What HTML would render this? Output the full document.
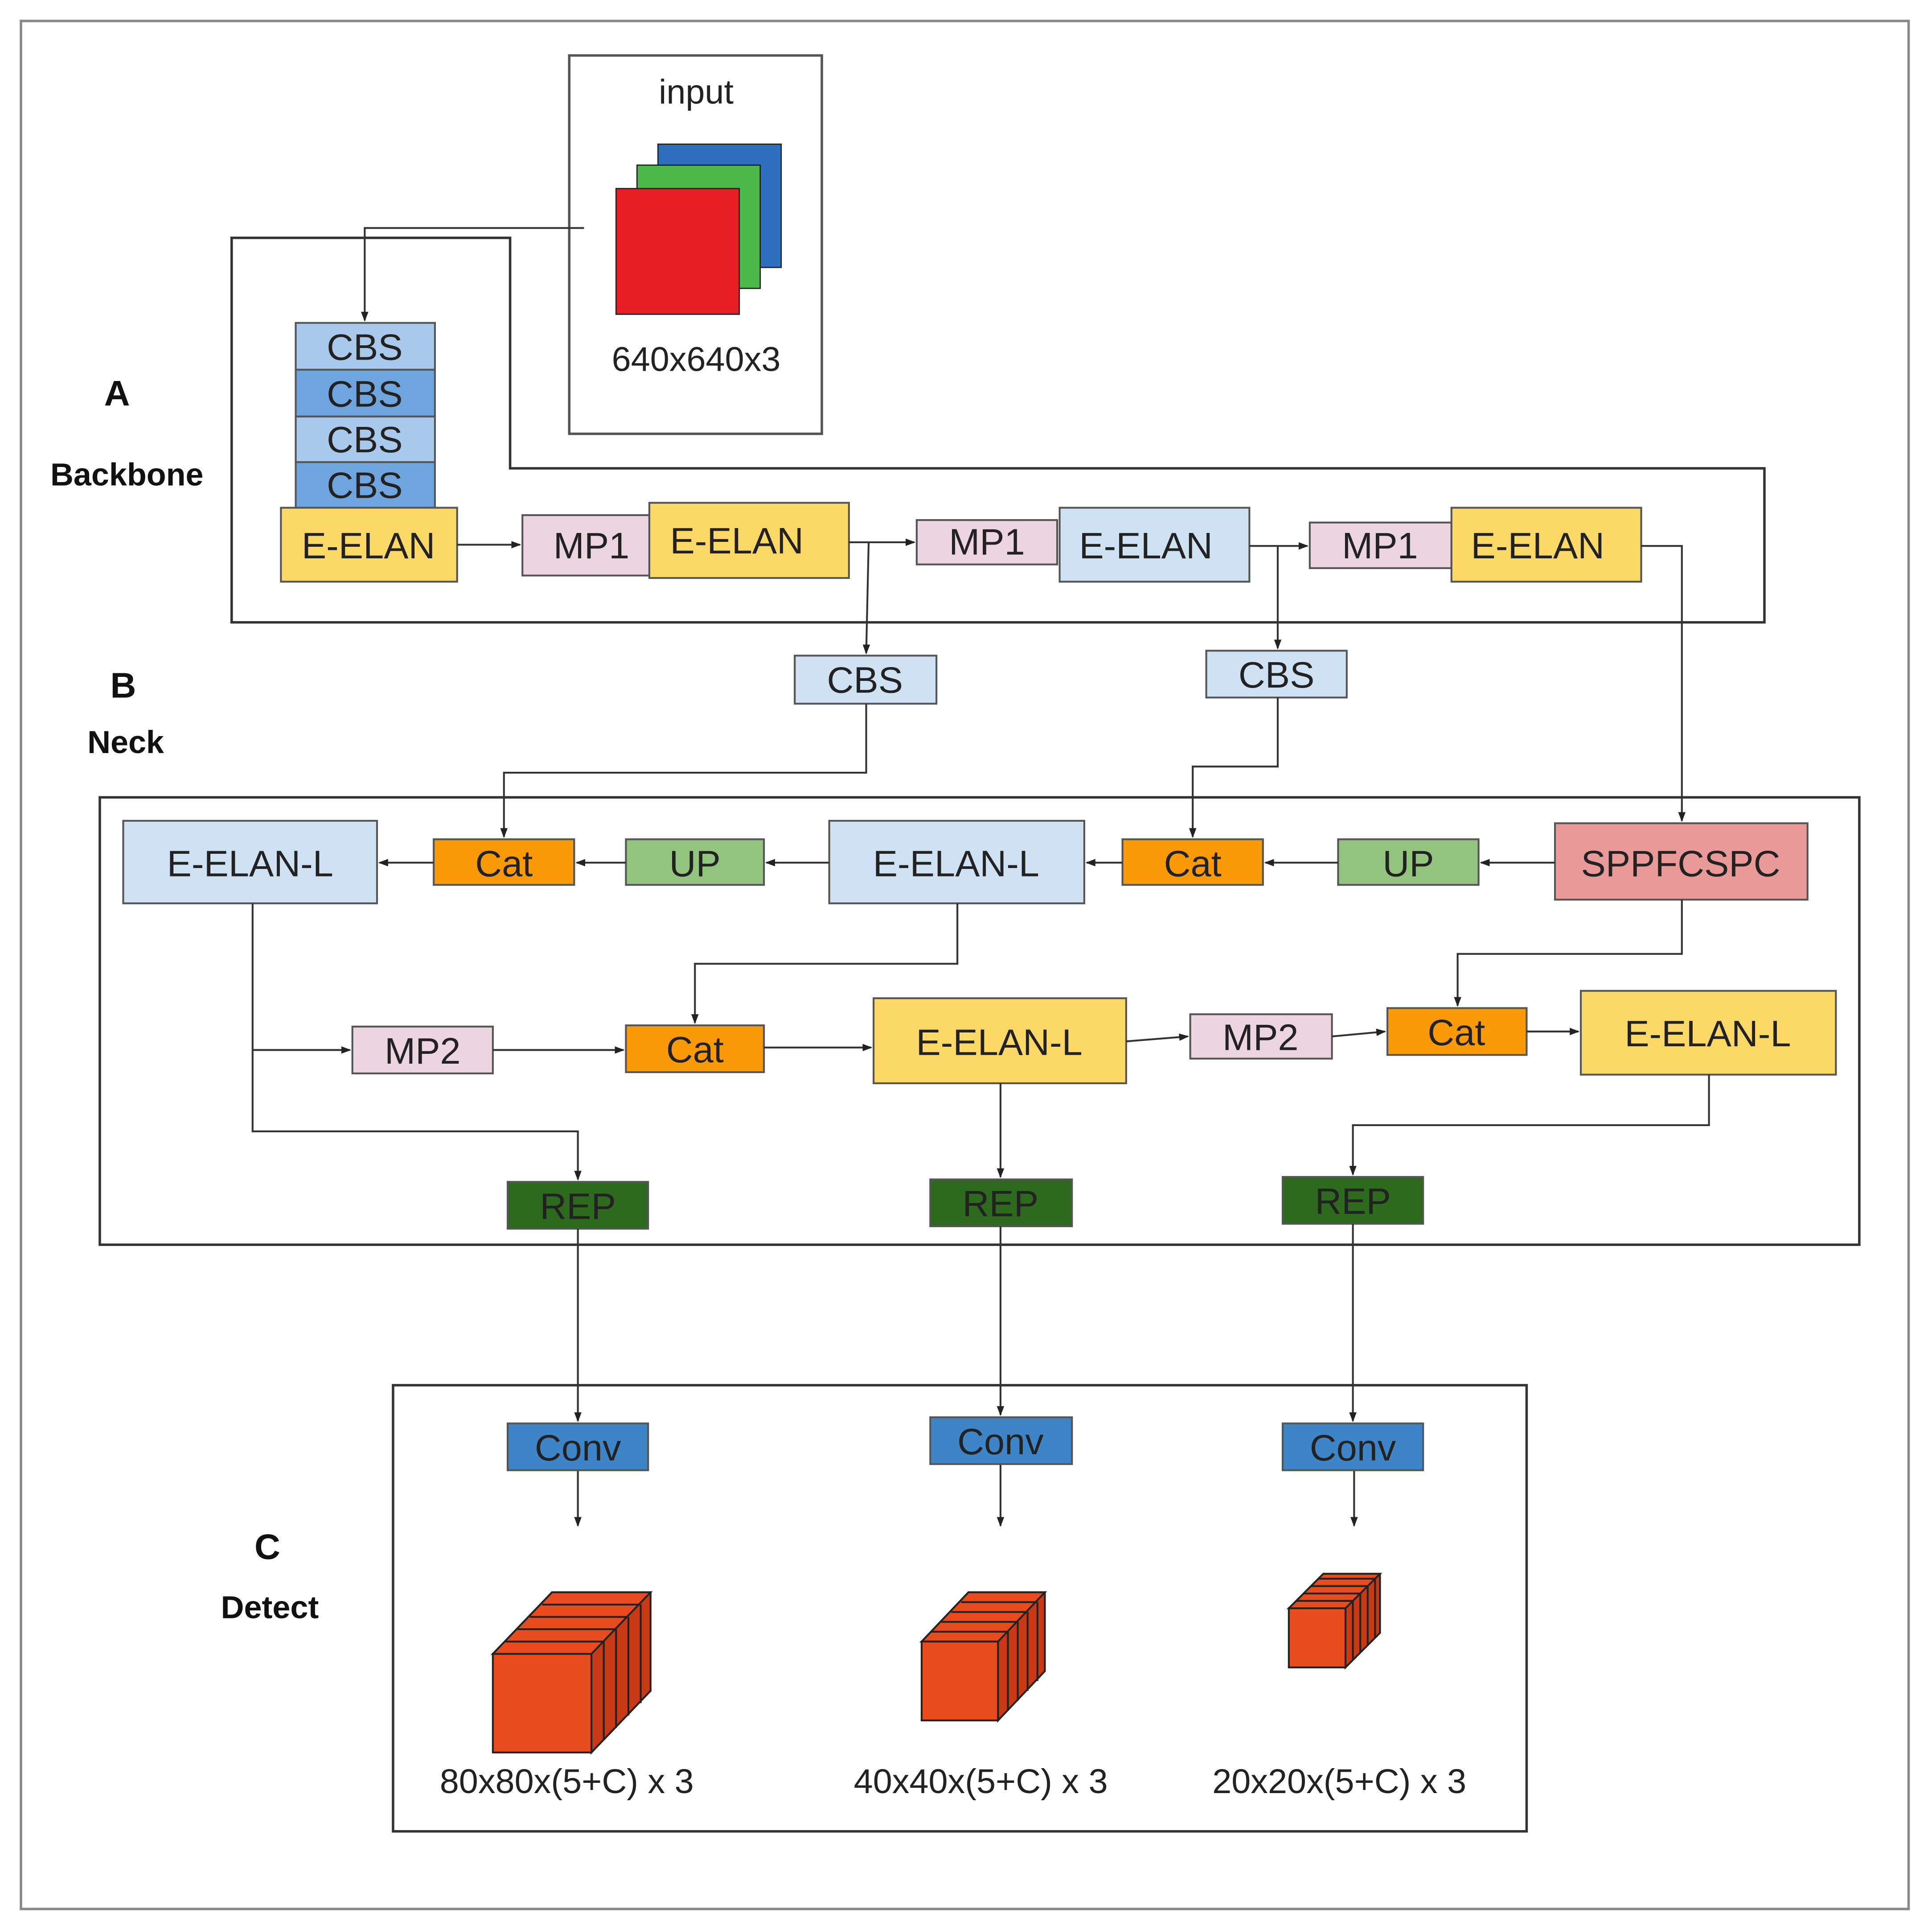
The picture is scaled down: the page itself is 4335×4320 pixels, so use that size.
<!DOCTYPE html>
<html><head><meta charset="utf-8"><style>html,body{margin:0;padding:0;background:#fff}svg{display:block}</style></head>
<body>
<svg width="4335" height="4320" viewBox="0 0 1568 1562" preserveAspectRatio="none" xmlns="http://www.w3.org/2000/svg" font-family="Liberation Sans, sans-serif">
<defs><marker id="a" markerWidth="8" markerHeight="8" refX="7" refY="4" orient="auto" markerUnits="userSpaceOnUse"><path d="M0,1 L8,4 L0,7 Z" fill="#222"/></marker></defs>
<rect x="0" y="0" width="1568" height="1562" fill="#fff"/>
<rect x="17" y="17" width="1532" height="1532" fill="none" stroke="#888" stroke-width="2"/>
<!-- input -->
<rect x="462" y="45" width="205" height="307" fill="none" stroke="#555" stroke-width="2"/>
<text x="565" y="84" font-size="28" text-anchor="middle" fill="#222">input</text>
<rect x="534" y="117" width="100" height="100" fill="#2f6fc0" stroke="#222"/>
<rect x="517" y="134" width="100" height="100" fill="#4cb84c" stroke="#222"/>
<rect x="500" y="153" width="100" height="102" fill="#e81e25" stroke="#222"/>
<text x="565" y="301" font-size="28" text-anchor="middle" fill="#222">640x640x3</text>
<!-- backbone box -->
<path d="M188,193 H414 V380 H1432 V505 H188 Z" fill="none" stroke="#333" stroke-width="2"/>
<path d="M474,185 H296 V260" fill="none" stroke="#333" stroke-width="1.5" marker-end="url(#a)"/>
<g stroke="#555" stroke-width="1.5">
<rect x="240" y="262" width="113" height="38" fill="#a9c9ec"/>
<rect x="240" y="300" width="113" height="38" fill="#6fa5df"/>
<rect x="240" y="338" width="113" height="37" fill="#a9c9ec"/>
<rect x="240" y="375" width="113" height="37" fill="#6fa5df"/>
<rect x="228" y="412" width="143" height="60" fill="#fcd967"/>
<rect x="424" y="418" width="103" height="49" fill="#ecd4e0"/>
<rect x="527" y="408" width="162" height="61" fill="#fcd967"/>
<rect x="744" y="422" width="114" height="36" fill="#ecd4e0"/>
<rect x="860" y="412" width="154" height="60" fill="#cfe2f3"/>
<rect x="1063" y="424" width="115" height="37" fill="#ecd4e0"/>
<rect x="1178" y="412" width="154" height="60" fill="#fcd967"/>
<rect x="645" y="532" width="115" height="39" fill="#cfe2f3"/>
<rect x="979" y="528" width="114" height="38" fill="#cfe2f3"/>
</g>
<g font-size="30" text-anchor="middle" fill="#222">
<text x="296" y="292">CBS</text><text x="296" y="330">CBS</text><text x="296" y="367">CBS</text><text x="296" y="404">CBS</text>
<text x="299" y="453">E-ELAN</text><text x="480" y="453">MP1</text><text x="598" y="449">E-ELAN</text>
<text x="801" y="450">MP1</text><text x="930" y="453">E-ELAN</text><text x="1120" y="453">MP1</text><text x="1248" y="453">E-ELAN</text>
<text x="702" y="562">CBS</text><text x="1036" y="558">CBS</text>
</g>
<g fill="none" stroke="#333" stroke-width="1.5">
<path d="M371,442 H422" marker-end="url(#a)"/>
<path d="M689,440 H742" marker-end="url(#a)"/>
<path d="M1014,443 H1061" marker-end="url(#a)"/>
<path d="M1332,443 H1365 V666" marker-end="url(#a)"/>
<path d="M705,440 L703,530" marker-end="url(#a)"/>
<path d="M1037,443 V526" marker-end="url(#a)"/>
<path d="M703,571 V627 H409 V679" marker-end="url(#a)"/>
<path d="M1037,566 V622 H968 V679" marker-end="url(#a)"/>
</g>
<!-- neck -->
<rect x="81" y="647" width="1428" height="363" fill="none" stroke="#333" stroke-width="2"/>
<g stroke="#555" stroke-width="1.5">
<rect x="100" y="666" width="206" height="67" fill="#cfe2f3"/>
<rect x="352" y="681" width="114" height="37" fill="#fb9a09"/>
<rect x="508" y="681" width="112" height="37" fill="#93c47d"/>
<rect x="673" y="666" width="207" height="67" fill="#cfe2f3"/>
<rect x="911" y="681" width="114" height="37" fill="#fb9a09"/>
<rect x="1086" y="681" width="114" height="37" fill="#93c47d"/>
<rect x="1262" y="668" width="205" height="62" fill="#ea9999"/>
<rect x="286" y="833" width="114" height="38" fill="#ecd4e0"/>
<rect x="508" y="832" width="112" height="38" fill="#fb9a09"/>
<rect x="709" y="810" width="205" height="69" fill="#fcd967"/>
<rect x="966" y="823" width="115" height="36" fill="#ecd4e0"/>
<rect x="1126" y="818" width="113" height="38" fill="#fb9a09"/>
<rect x="1283" y="804" width="207" height="68" fill="#fcd967"/>
<rect x="412" y="959" width="114" height="38" fill="#2d6a1e"/>
<rect x="755" y="957" width="115" height="38" fill="#2d6a1e"/>
<rect x="1041" y="955" width="114" height="38" fill="#2d6a1e"/>
</g>
<g font-size="30" text-anchor="middle" fill="#222">
<text x="203" y="711">E-ELAN-L</text><text x="409" y="711">Cat</text><text x="564" y="711">UP</text>
<text x="776" y="711">E-ELAN-L</text><text x="968" y="711">Cat</text><text x="1143" y="711">UP</text>
<text x="1364" y="711">SPPFCSPC</text>
<text x="343" y="863">MP2</text><text x="564" y="862">Cat</text><text x="811" y="856">E-ELAN-L</text>
<text x="1023" y="852">MP2</text><text x="1182" y="848">Cat</text><text x="1386" y="849">E-ELAN-L</text>
<text x="469" y="989">REP</text><text x="812" y="987">REP</text><text x="1098" y="985">REP</text>
</g>
<g fill="none" stroke="#333" stroke-width="1.5">
<path d="M352,700 H308" marker-end="url(#a)"/>
<path d="M508,700 H468" marker-end="url(#a)"/>
<path d="M673,700 H622" marker-end="url(#a)"/>
<path d="M911,700 H882" marker-end="url(#a)"/>
<path d="M1086,700 H1027" marker-end="url(#a)"/>
<path d="M1262,700 H1202" marker-end="url(#a)"/>
<path d="M1365,730 V774 H1183 V816" marker-end="url(#a)"/>
<path d="M777,733 V782 H564 V830" marker-end="url(#a)"/>
<path d="M205,733 V918 H469 V957" marker-end="url(#a)"/>
<path d="M205,852 H284" marker-end="url(#a)"/>
<path d="M400,852 H506" marker-end="url(#a)"/>
<path d="M620,850 H707" marker-end="url(#a)"/>
<path d="M914,845 L964,841" marker-end="url(#a)"/>
<path d="M1081,841 L1124,837" marker-end="url(#a)"/>
<path d="M1239,837 H1281" marker-end="url(#a)"/>
<path d="M812,879 V955" marker-end="url(#a)"/>
<path d="M1387,872 V913 H1098 V953" marker-end="url(#a)"/>
<path d="M469,997 V1153" marker-end="url(#a)"/>
<path d="M812,995 V1148" marker-end="url(#a)"/>
<path d="M1098,993 V1153" marker-end="url(#a)"/>
<path d="M469,1193 V1238" marker-end="url(#a)"/>
<path d="M812,1188 V1238" marker-end="url(#a)"/>
<path d="M1099,1193 V1238" marker-end="url(#a)"/>
</g>
<!-- detect -->
<rect x="319" y="1124" width="920" height="362" fill="none" stroke="#333" stroke-width="2"/>
<g stroke="#555" stroke-width="1.5" fill="#3d85c6">
<rect x="412" y="1155" width="114" height="38"/>
<rect x="755" y="1150" width="115" height="38"/>
<rect x="1041" y="1155" width="114" height="38"/>
</g>
<g font-size="30" text-anchor="middle" fill="#222">
<text x="469" y="1185">Conv</text><text x="812" y="1180">Conv</text><text x="1098" y="1185">Conv</text>
</g>
<!-- cubes -->
<g stroke="#222" stroke-width="1.5">
<polygon points="400,1342 448,1292 528,1292 528,1372 480,1422 480,1342" fill="#c83a16"/>
<polygon points="400,1342 448,1292 528,1292 480,1342" fill="#e84c1e"/>
<rect x="400" y="1342" width="80" height="80" fill="#e84c1e"/>
<path d="M490,1332 V1412 M500,1322 V1402 M510,1312 V1392 M520,1302 V1382 M410,1332 H490 M420,1322 H500 M430,1312 H510 M440,1302 H520" fill="none"/>
<polygon points="748,1332 786,1292 848,1292 848,1356 810,1396 810,1332" fill="#c83a16"/>
<polygon points="748,1332 786,1292 848,1292 810,1332" fill="#e84c1e"/>
<rect x="748" y="1332" width="62" height="64" fill="#e84c1e"/>
<path d="M818,1324 V1388 M826,1316 V1380 M834,1308 V1372 M842,1300 V1364 M756,1324 H818 M764,1316 H826 M772,1308 H834 M780,1300 H842" fill="none"/>
<polygon points="1046,1305 1074,1277 1120,1277 1120,1325 1092,1353 1092,1305" fill="#c83a16"/>
<polygon points="1046,1305 1074,1277 1120,1277 1092,1305" fill="#e84c1e"/>
<rect x="1046" y="1305" width="46" height="48" fill="#e84c1e"/>
<path d="M1098,1299 V1347 M1104,1293 V1341 M1110,1287 V1335 M1116,1281 V1329 M1052,1299 H1098 M1058,1293 H1104 M1064,1287 H1110 M1070,1281 H1116" fill="none"/>
</g>
<g font-size="28" text-anchor="middle" fill="#222">
<text x="460" y="1455">80x80x(5+C) x 3</text>
<text x="796" y="1455">40x40x(5+C) x 3</text>
<text x="1087" y="1455">20x20x(5+C) x 3</text>
</g>
<g font-weight="bold" text-anchor="middle" fill="#111">
<text x="95" y="329" font-size="29">A</text>
<text x="103" y="394" font-size="26">Backbone</text>
<text x="100" y="566" font-size="29">B</text>
<text x="102" y="611" font-size="26">Neck</text>
<text x="217" y="1265" font-size="29">C</text>
<text x="219" y="1313" font-size="26">Detect</text>
</g>
</svg>
</body></html>
